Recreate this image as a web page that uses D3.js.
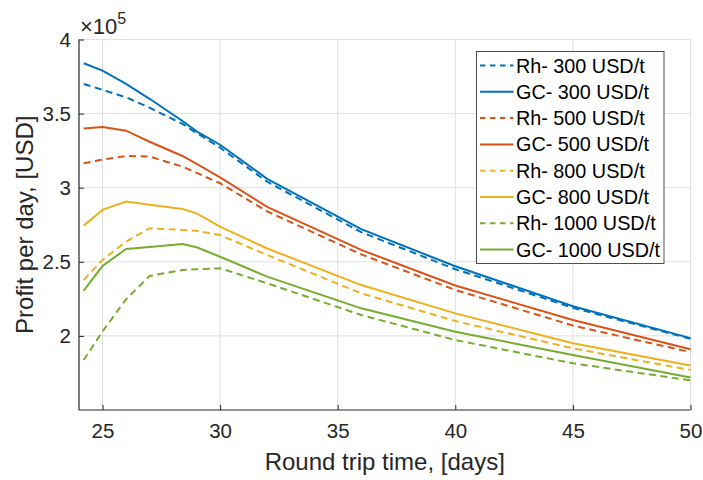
<!DOCTYPE html>
<html><head><meta charset="utf-8">
<script src="https://cdn.jsdelivr.net/npm/d3@7"></script>
<style>
body{margin:0;background:#fff;}
svg{display:block;font-family:"Liberation Sans",Arial,sans-serif;}
</style></head>
<body><svg id="c" width="703" height="480"></svg>
<script>
const days = [24.2, 25, 26, 27, 28.4, 29, 30, 32, 36, 40, 45, 50];
const rh300  = [3.70, 3.66, 3.61, 3.54, 3.43, 3.37, 3.27, 3.04, 2.70, 2.45, 2.19, 1.98];
const gc300  = [3.84, 3.79, 3.70, 3.60, 3.45, 3.38, 3.29, 3.06, 2.72, 2.47, 2.20, 1.985];
const rh500  = [3.165, 3.19, 3.214, 3.21, 3.142, 3.10, 3.03, 2.84, 2.55, 2.31, 2.07, 1.89];
const gc500  = [3.40, 3.41, 3.385, 3.31, 3.214, 3.16, 3.07, 2.87, 2.58, 2.34, 2.107, 1.91];
const rh800  = [2.377, 2.512, 2.636, 2.726, 2.715, 2.71, 2.68, 2.546, 2.287, 2.10, 1.916, 1.77];
const gc800  = [2.744, 2.85, 2.906, 2.885, 2.856, 2.827, 2.737, 2.59, 2.343, 2.152, 1.95, 1.80];
const rh1000 = [1.837, 2.03, 2.247, 2.404, 2.445, 2.45, 2.456, 2.355, 2.141, 1.972, 1.815, 1.70];
const gc1000 = [2.305, 2.472, 2.586, 2.60, 2.62, 2.598, 2.534, 2.40, 2.186, 2.028, 1.871, 1.72];
const seriesNames = ["Rh- 300 USD/t","GC- 300 USD/t","Rh- 500 USD/t","GC- 500 USD/t","Rh- 800 USD/t","GC- 800 USD/t","Rh- 1000 USD/t","GC- 1000 USD/t"];
const seriesValues = [rh300, gc300, rh500, gc500, rh800, gc800, rh1000, gc1000];
const seriesColors = ["#0072BD","#0072BD","#D95319","#D95319","#EDB120","#EDB120","#77AC30","#77AC30"];
const seriesDashed = [true,false,true,false,true,false,true,false];
const xTicks = [25, 30, 35, 40, 45, 50];
const yTicks = [2, 2.5, 3, 3.5, 4];

const svg = d3.select("#c");
const L = 79, R = 690.5, T = 39.5, B = 410;
const x = d3.scaleLinear().domain([24, 50]).range([L, R]);
const y = d3.scaleLinear().domain([1.5, 4]).range([B, T]);
const axisCol = "#262626";

// grid
const g = svg.append("g");
g.selectAll(".vx").data(xTicks).enter().append("line")
  .attr("x1", d => x(d)).attr("x2", d => x(d)).attr("y1", T).attr("y2", B)
  .attr("stroke", "#dfdfdf").attr("stroke-width", 1);
g.selectAll(".hy").data(yTicks).enter().append("line")
  .attr("x1", L).attr("x2", R).attr("y1", d => y(d)).attr("y2", d => y(d))
  .attr("stroke", "#dfdfdf").attr("stroke-width", 1);

// lines
const line = d3.line().x((d, i) => x(days[i])).y(d => y(d));
seriesValues.forEach((vals, k) => {
  svg.append("path").datum(vals)
    .attr("d", line)
    .attr("fill", "none")
    .attr("stroke", seriesColors[k])
    .attr("stroke-width", 2)
    .attr("stroke-dasharray", seriesDashed[k] ? "7,4.5" : null);
});

// axes
const xAxis = d3.axisBottom(x).tickValues(xTicks).tickSize(-5).tickPadding(13.5).tickFormat(d3.format("d"));
const yAxis = d3.axisLeft(y).tickValues(yTicks).tickSize(-5).tickPadding(8).tickFormat(d => d3.format("")(d));
const gx = svg.append("g").attr("transform", `translate(0,${B})`).call(xAxis);
const gy = svg.append("g").attr("transform", `translate(${L},0)`).call(yAxis);
[gx, gy].forEach(a => {
  a.select(".domain").attr("stroke", axisCol).attr("stroke-width", 1.2);
  a.selectAll(".tick line").attr("stroke", axisCol);
  a.selectAll(".tick text").attr("fill", axisCol).attr("font-size", 20.5)
    .attr("font-family", "'Liberation Sans',Arial,sans-serif");
});
gx.select(".domain").attr("d", `M${L},0H${R}`);
gy.select(".domain").attr("d", `M0,${B}V${T}`);

// exponent
const ex = svg.append("text").attr("x", 80).attr("y", 34).attr("fill", axisCol)
  .attr("font-size", 22);
ex.append("tspan").text("\u00d710");
ex.append("tspan").attr("font-size", 16).attr("dy", -10).text("5");

// axis labels
svg.append("text").attr("x", (L + R) / 2).attr("y", 470).attr("text-anchor", "middle")
  .attr("fill", axisCol).attr("font-size", 24).text("Round trip time, [days]");
svg.append("text").attr("transform", `translate(33,${(T + B) / 2}) rotate(-90)`)
  .attr("text-anchor", "middle").attr("fill", axisCol).attr("font-size", 24)
  .text("Profit per day, [USD]");

// legend
const lg = svg.append("g");
lg.append("rect").attr("x", 476.5).attr("y", 51.5).attr("width", 187.5).attr("height", 212)
  .attr("fill", "#fff").attr("stroke", axisCol).attr("stroke-width", 0.8);
seriesNames.forEach((nm, k) => {
  const cy = 65.5 + k * 26.3;
  lg.append("line").attr("x1", 480).attr("x2", 513.5).attr("y1", cy).attr("y2", cy)
    .attr("stroke", seriesColors[k]).attr("stroke-width", 2)
    .attr("stroke-dasharray", seriesDashed[k] ? "5.5,4.5" : null);
  lg.append("text").attr("x", 516).attr("y", cy + 7).attr("fill", "#000")
    .attr("font-size", 19.8).text(nm);
});
</script></body></html>
